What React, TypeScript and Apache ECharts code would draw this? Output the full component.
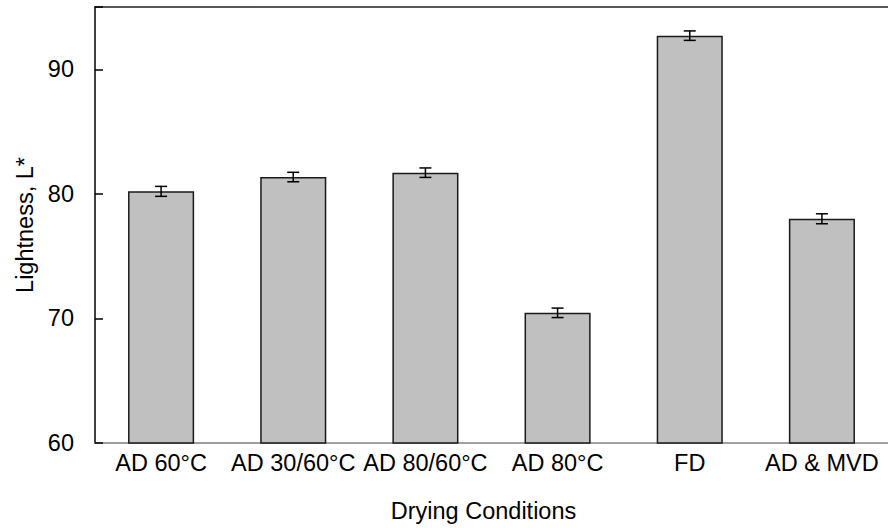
import React, { useEffect, useRef } from "react";
import * as echarts from "echarts";

const categories = ["AD 60°C", "AD 30/60°C", "AD 80/60°C", "AD 80°C", "FD", "AD & MVD"];
const lightness = [80.2, 81.35, 81.7, 70.45, 92.7, 78.0];
const errors = [0.4, 0.38, 0.38, 0.38, 0.38, 0.4];
const yTicks = [60, 70, 80, 90];

const FONT = "'Liberation Sans', Arial, sans-serif";
const FS = 23.5;

export default function App() {
  const ref = useRef<HTMLDivElement>(null);
  useEffect(() => {
    if (!ref.current) return;
    const chart = echarts.init(ref.current, undefined, { renderer: "svg" });
    const errData = categories.map((c, i) => [i, lightness[i], errors[i]]);
    chart.setOption({
      animation: false,
      backgroundColor: "#ffffff",
      textStyle: { fontFamily: FONT },
      grid: { left: 95, right: -10, top: 7, bottom: 84, containLabel: false },
      xAxis: [
        {
          type: "category",
          data: categories,
          position: "bottom",
          axisLine: { lineStyle: { color: "#808080", width: 1.5 } },
          axisTick: { show: false },
          axisLabel: { color: "#000", fontSize: FS, fontFamily: FONT, margin: 8, interval: 0 },
          name: "Drying Conditions",
          nameLocation: "middle",
          nameGap: 56,
          nameTextStyle: { color: "#000", fontSize: FS, fontFamily: FONT, padding: [0, 16, 0, 0] },
        },
        {
          type: "category",
          data: categories,
          position: "top",
          axisLine: { lineStyle: { color: "#222", width: 1.5 } },
          axisTick: { show: false },
          axisLabel: { show: false },
        },
      ],
      yAxis: {
        type: "value",
        min: 60,
        max: 95,
        interval: 10,
        axisLine: { show: true, lineStyle: { color: "#000", width: 1.5 } },
        axisTick: { show: true, inside: true, length: 8, lineStyle: { color: "#000", width: 1.5 } },
        splitLine: { show: false },
        axisLabel: {
          color: "#000",
          fontSize: FS,
          fontFamily: FONT,
          margin: 21,
          formatter: (v: number) => (yTicks.includes(v) ? String(v) : ""),
        },
        name: "Lightness, L*",
        nameLocation: "middle",
        nameGap: 58,
        nameTextStyle: { color: "#000", fontSize: FS, fontFamily: FONT },
      },
      series: [
        {
          type: "bar",
          data: lightness,
          barWidth: "50%",
          itemStyle: { color: "#c0c0c0", borderColor: "#1a1a1a", borderWidth: 1.5 },
        },
        {
          type: "custom",
          data: errData,
          z: 5,
          renderItem: (params: any, api: any) => {
            const x = api.value(0);
            const y = api.value(1);
            const e = api.value(2);
            const top = api.coord([x, y + e]);
            const bot = api.coord([x, y - e]);
            const hw = 6;
            const style = { stroke: "#000", lineWidth: 1.5 };
            return {
              type: "group",
              children: [
                { type: "line", shape: { x1: top[0], y1: top[1], x2: bot[0], y2: bot[1] }, style },
                { type: "line", shape: { x1: top[0] - hw, y1: top[1], x2: top[0] + hw, y2: top[1] }, style },
                { type: "line", shape: { x1: bot[0] - hw, y1: bot[1], x2: bot[0] + hw, y2: bot[1] }, style },
              ],
            };
          },
        },
      ],
    });
    return () => chart.dispose();
  }, []);
  return (
    <div
      ref={ref}
      style={{ position: "fixed", left: 0, top: 0, width: 888, height: 528, background: "#fff" }}
    />
  );
}
